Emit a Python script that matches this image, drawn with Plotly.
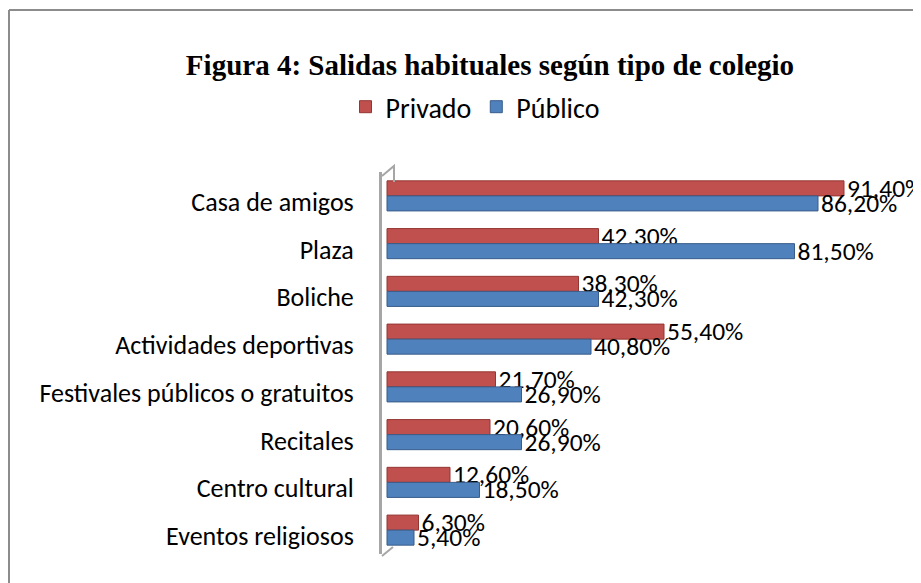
import plotly.graph_objects as go

categories = [
    "Casa de amigos",
    "Plaza",
    "Boliche",
    "Actividades deportivas",
    "Festivales públicos o gratuitos",
    "Recitales",
    "Centro cultural",
    "Eventos religiosos",
]
privado = [91.4, 42.3, 38.3, 55.4, 21.7, 20.6, 12.6, 6.3]
publico = [86.2, 81.5, 42.3, 40.8, 26.9, 26.9, 18.5, 5.4]

# the page adds an 8px body margin, so everything is laid out 8px up/left
OFF = 8
W, H = 921, 583
ML, MR, MT, MB = 382 - OFF, 42, 172 - OFF, 29 + OFF
PW, PH = W - ML - MR, H - MT - MB

FONT = "Carlito, Calibri, Liberation Sans, sans-serif"


def px_x(px):
    return (px - OFF - ML) / PW


def px_y(py):
    return (H - MB - (py - OFF)) / PH


fig = go.Figure()
fig.add_trace(go.Bar(
    y=categories, x=privado, name="Privado", orientation="h",
    marker=dict(color="#C0504D", line=dict(color="#943634", width=1)),
    texttemplate="%{x:.2f}%", textposition="outside",
    textfont=dict(size=25.5, color="black", family=FONT),
    constraintext="none", cliponaxis=False,
))
fig.add_trace(go.Bar(
    y=categories, x=publico, name="Público", orientation="h",
    marker=dict(color="#4F81BD", line=dict(color="#385D8A", width=1)),
    texttemplate="%{x:.2f}%", textposition="outside",
    textfont=dict(size=25.5, color="black", family=FONT),
    constraintext="none", cliponaxis=False,
))

# chart frame (only top/left edge visible in the original)
lx, ty = px_x(9), px_y(10)
fig.add_shape(type="line", xref="paper", yref="paper", x0=lx, x1=2, y0=ty, y1=ty,
              line=dict(color="#8c8c8c", width=2))
fig.add_shape(type="line", xref="paper", yref="paper", x0=lx, x1=lx, y0=ty, y1=-2,
              line=dict(color="#8c8c8c", width=2))

# 3-D wall edges of the category axis
fig.add_shape(type="path", xref="paper", yref="paper",
              path=f"M {px_x(382)} {px_y(176)} L {px_x(394)} {px_y(166)} L {px_x(394)} {px_y(182)}",
              line=dict(color="#a6a6a6", width=2))
fig.add_shape(type="line", xref="paper", yref="paper",
              x0=px_x(382), y0=px_y(556), x1=px_x(393), y1=px_y(547),
              line=dict(color="#a6a6a6", width=2))

fig.update_layout(
    width=W, height=H,
    margin=dict(l=ML, r=MR, t=MT, b=MB),
    paper_bgcolor="white", plot_bgcolor="white",
    separators=",.",
    barmode="group", bargap=0.37, bargroupgap=0,
    title=dict(
        text="<b>Figura 4: Salidas habituales según tipo de colegio</b>",
        x=(490 - OFF) / W, xanchor="center", y=1 - (65 - OFF) / H, yanchor="middle",
        font=dict(family="Liberation Serif, serif", size=29, color="black"),
    ),
    legend=dict(
        orientation="h", x=px_x(475), xanchor="center",
        y=px_y(107), yanchor="middle",
        font=dict(family=FONT, size=28, color="black"),
        itemwidth=30, traceorder="normal",
    ),
    font=dict(family=FONT, size=26, color="black"),
    xaxis=dict(range=[-1, 100], visible=False, showgrid=False, zeroline=False),
    yaxis=dict(
        autorange="reversed", showgrid=False, zeroline=False,
        showline=True, linecolor="#a6a6a6", linewidth=3,
        ticks="", ticklabelstandoff=20, ticklabelshift=-6,
        tickfont=dict(family=FONT, size=26, color="black"),
    ),
)

fig.write_html("out.html")
